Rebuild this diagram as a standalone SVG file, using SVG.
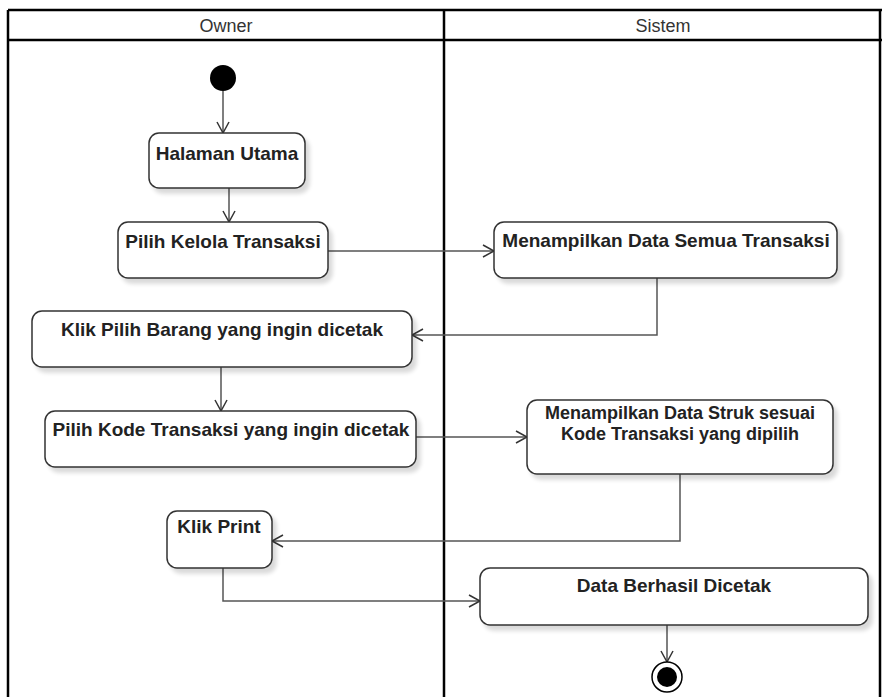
<svg xmlns="http://www.w3.org/2000/svg" width="882" height="697" viewBox="0 0 882 697">
  <defs>
    <marker id="open-arrow" markerWidth="14" markerHeight="14" refX="12" refY="7" orient="auto" markerUnits="userSpaceOnUse">
      <path d="M1,1 L12,7 L1,13" fill="none" stroke="#333" stroke-width="1.5"/>
    </marker>
    <filter id="shadow" x="-10%" y="-10%" width="130%" height="140%">
      <feGaussianBlur in="SourceAlpha" stdDeviation="2"/>
      <feOffset dx="4" dy="5" result="b"/>
      <feComponentTransfer><feFuncA type="linear" slope="0.15"/></feComponentTransfer>
      <feMerge><feMergeNode/><feMergeNode in="SourceGraphic"/></feMerge>
    </filter>
  </defs>
  <style>
    .lane { fill: none; stroke: #000; stroke-width: 2.5; }
    .lane-title { font-family: "Liberation Sans", Arial, sans-serif; font-size: 18px; fill: #333; text-anchor: middle; }
    .act { fill: #fff; stroke: #333; stroke-width: 1.5; filter: url(#shadow); }
    .label { font-family: "Liberation Sans", Arial, sans-serif; font-size: 19px; font-weight: bold; fill: #222; text-anchor: middle; }
    .label-sm { font-size: 18px; }
    .flow { fill: none; stroke: #555; stroke-width: 1.5; marker-end: url(#open-arrow); }
  </style>
  <rect width="882" height="697" fill="#fff"/>

  <!-- swimlanes -->
  <g id="lanes">
    <line class="lane" x1="8" y1="10" x2="882" y2="10"/>
    <line class="lane" x1="8" y1="40" x2="882" y2="40"/>
    <line class="lane" x1="8" y1="10" x2="8" y2="697"/>
    <line class="lane" x1="444" y1="10" x2="444" y2="697"/>
    <line class="lane" x1="880" y1="10" x2="880" y2="697"/>
    <text class="lane-title" x="226" y="32">Owner</text>
    <text class="lane-title" x="663" y="32">Sistem</text>
  </g>

  <!-- connectors -->
  <g id="connectors">
    <path class="flow" d="M223,91 L223,133"/>
    <path class="flow" d="M229,188 L229,222"/>
    <path class="flow" d="M328,251 L494,251"/>
    <path class="flow" d="M657,278 L657,335 L412,335"/>
    <path class="flow" d="M221,367 L221,411"/>
    <path class="flow" d="M416,437 L527,437"/>
    <path class="flow" d="M680,474 L680,541 L272,541"/>
    <path class="flow" d="M223,568 L223,601 L480,601"/>
    <path class="flow" d="M667,625 L667,662"/>
  </g>

  <!-- start -->
  <g id="start">
    <circle cx="223" cy="78" r="13" fill="#000"/>
  </g>

  <g id="halaman-utama">
    <rect class="act" x="149" y="133" width="156" height="55" rx="10"/>
    <text class="label" x="227" y="160">Halaman Utama</text>
  </g>

  <g id="pilih-kelola">
    <rect class="act" x="118" y="222" width="210" height="56" rx="10"/>
    <text class="label" x="223" y="248">Pilih Kelola Transaksi</text>
  </g>

  <g id="tampil-semua">
    <rect class="act" x="494" y="222" width="343" height="56" rx="10"/>
    <text class="label" x="666" y="247">Menampilkan Data Semua Transaksi</text>
  </g>

  <g id="klik-pilih-barang">
    <rect class="act" x="32" y="311" width="380" height="56" rx="10"/>
    <text class="label" x="222" y="336">Klik Pilih Barang yang ingin dicetak</text>
  </g>

  <g id="pilih-kode">
    <rect class="act" x="45" y="411" width="371" height="56" rx="10"/>
    <text class="label" x="231" y="436">Pilih Kode Transaksi yang ingin dicetak</text>
  </g>

  <g id="tampil-struk">
    <rect class="act" x="527" y="400" width="306" height="74" rx="10"/>
    <text class="label label-sm" x="680" y="419">Menampilkan Data Struk sesuai</text>
    <text class="label label-sm" x="680" y="440">Kode Transaksi yang dipilih</text>
  </g>

  <g id="klik-print">
    <rect class="act" x="167" y="511" width="105" height="57" rx="10"/>
    <text class="label" x="219" y="533">Klik Print</text>
  </g>

  <g id="berhasil">
    <rect class="act" x="480" y="568" width="388" height="57" rx="10"/>
    <text class="label" x="674" y="592">Data Berhasil Dicetak</text>
  </g>

  <!-- end -->
  <g id="end">
    <circle cx="667" cy="677" r="15" fill="#fff" stroke="#000" stroke-width="1.5"/>
    <circle cx="667" cy="677" r="10" fill="#000"/>
  </g>
</svg>
